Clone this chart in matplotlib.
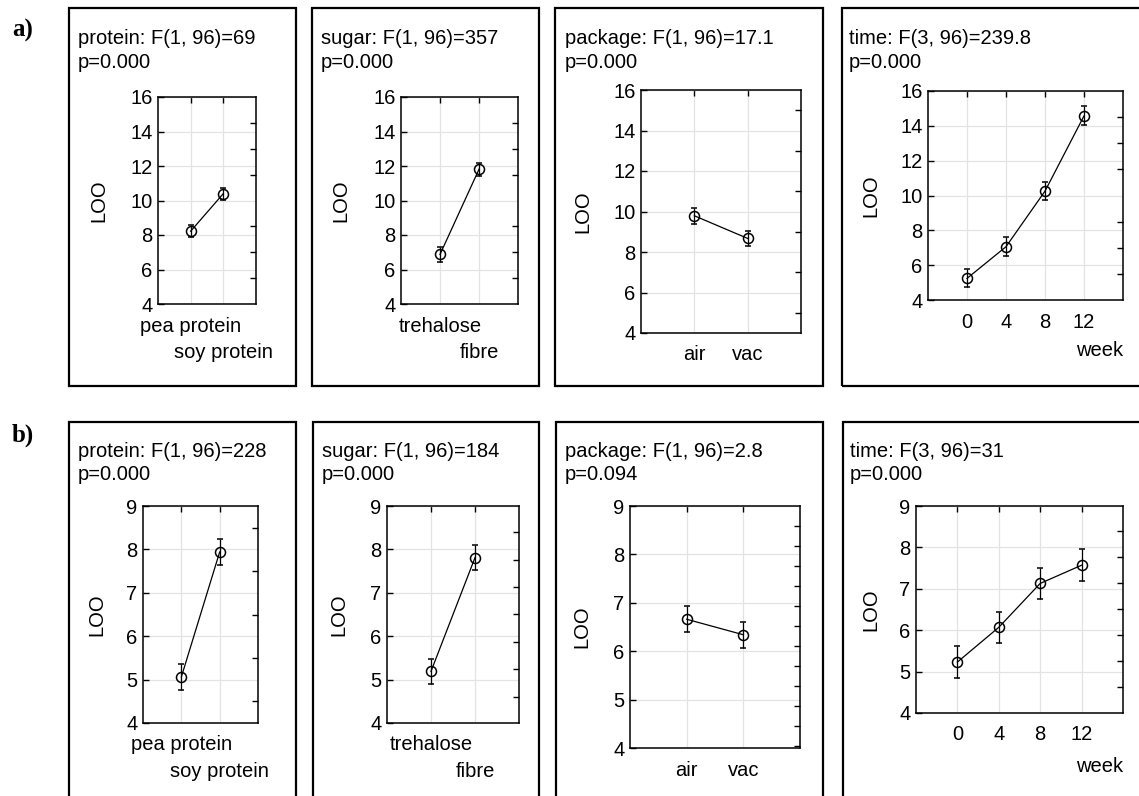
import numpy as np
import matplotlib
matplotlib.use("Agg")
import matplotlib.pyplot as plt
from matplotlib.patches import Rectangle
from matplotlib.ticker import FixedLocator

plt.rcParams['font.family'] = ['Liberation Sans', 'DejaVu Sans']

# ---------------- data ----------------
protein_labels = ["pea protein", "soy protein"]
sugar_labels = ["trehalose", "fibre"]
package_labels = ["air", "vac"]
weeks = [0, 4, 8, 12]

a_protein_mean = [8.22, 10.40]
a_protein_err = [0.35, 0.35]
a_sugar_mean = [6.87, 11.81]
a_sugar_err = [0.44, 0.39]
a_package_mean = [9.79, 8.67]
a_package_err = [0.39, 0.38]
a_time_mean = [5.24, 7.06, 10.25, 14.57]
a_time_err = [0.52, 0.55, 0.53, 0.55]

b_protein_mean = [5.06, 7.94]
b_protein_err = [0.29, 0.29]
b_sugar_mean = [5.19, 7.81]
b_sugar_err = [0.28, 0.28]
b_package_mean = [6.66, 6.34]
b_package_err = [0.27, 0.27]
b_time_mean = [5.23, 6.07, 7.13, 7.57]
b_time_err = [0.38, 0.38, 0.38, 0.39]

a_titles = ["protein: F(1, 96)=69", "sugar: F(1, 96)=357",
            "package: F(1, 96)=17.1", "time: F(3, 96)=239.8"]
a_pvals = ["p=0.000", "p=0.000", "p=0.000", "p=0.000"]
b_titles = ["protein: F(1, 96)=228", "sugar: F(1, 96)=184",
            "package: F(1, 96)=2.8", "time: F(3, 96)=31"]
b_pvals = ["p=0.000", "p=0.000", "p=0.094", "p=0.000"]

a_yticks = [4, 6, 8, 10, 12, 14, 16]
b_yticks = [4, 5, 6, 7, 8, 9]
y_label = "LOO"
week_label = "week"

# ---------------- layout (pixels) ----------------
W, H = 1139, 796
fig = plt.figure(figsize=(W / 100, H / 100), dpi=100)
FS = 14.5


def frac(l, t, r, b):
    return [l / W, 1 - b / H, (r - l) / W, (b - t) / H]


a_boxes = [(69, 8, 296, 386), (312, 8, 539, 386), (555, 8, 823, 386), (842, 8, 1150, 386)]
b_boxes = [(69, 422, 296, 810), (313, 422, 539, 810), (556, 422, 823, 810), (843, 422, 1150, 810)]
a_axes = [(158, 97, 256, 304), (401, 97, 518, 304), (641, 90, 801, 333), (928, 91, 1123, 300)]
b_axes = [(143, 506, 258, 723), (387, 506, 519, 723), (630, 506, 800, 748), (916, 506, 1123, 713)]
a_title_xy = [(78, 38, 62), (321, 38, 62), (565, 38, 62), (849, 38, 62)]
b_title_xy = [(78, 451, 474), (322, 451, 474), (565, 451, 474), (850, 451, 474)]
a_ylab_x = [99, 341, 583, 871]
b_ylab_x = [97, 339, 582, 871]
a_right = [(14.5, 1.5), (14.5, 1.5), (15, 1.0), (14.5, 1.5)]
b_right = [(8.5, 1.0), (8.39, 0.63), (8.586, 0.413), (8.405, 0.63)]

XPAD = 9.0          # points
STAGGER = 19.0      # points, extra pad for second staggered label


def draw_panel(box, axpos, title, pval, txy, ylx, xvals, xlabels, means, errs,
               yticks, right, staggered, is_time, week_off):
    l, t, r, b = box
    fig.patches.append(Rectangle((l / W, 1 - b / H), (r - l) / W, (b - t) / H,
                                 transform=fig.transFigure, fill=False,
                                 lw=1.6, ec='black'))
    fig.text(txy[0] / W, 1 - txy[1] / H, title, fontsize=FS, ha='left', va='center')
    fig.text(txy[0] / W, 1 - txy[2] / H, pval, fontsize=FS, ha='left', va='center')

    ax = fig.add_axes(frac(*axpos))
    ax.errorbar(xvals, means, yerr=errs, color='black', lw=0.9, marker='o',
                markersize=7.2, markerfacecolor='none', markeredgecolor='black',
                markeredgewidth=1.1, capsize=2.2, elinewidth=0.9, capthick=0.9)
    ax.set_ylim(yticks[0], yticks[-1])
    ax.set_yticks(yticks)
    ax.set_yticklabels([str(v) for v in yticks])
    if is_time:
        ax.set_xlim(-4, 16)
        ax.set_xticks(xvals)
        ax.set_xticklabels([str(v) for v in xvals])
    else:
        ax.set_xlim(-1, 2)
        ax.set_xticks(xvals)
        ax.set_xticklabels(xlabels)
    ax.grid(True, color='#e3e3e3', lw=0.9)
    ax.set_axisbelow(True)
    for s in ax.spines.values():
        s.set_linewidth(1.1)
    ax.tick_params(axis='both', which='major', direction='in', length=4,
                   width=1.0, labelsize=FS, top=True, bottom=False, right=False)
    ax.tick_params(axis='y', pad=4)
    ax.tick_params(axis='x', pad=XPAD)
    start, step = right
    rt = np.arange(start, yticks[0] + 1e-6, -step)
    ax.yaxis.set_minor_locator(FixedLocator(rt))
    ax.tick_params(axis='y', which='minor', direction='in', length=4, width=1.0,
                   left=False, right=True)
    if staggered:
        ticks = ax.xaxis.get_major_ticks()
        ticks[1].set_pad(XPAD + STAGGER)
    ax.set_ylabel(y_label, fontsize=FS, va='center')
    al, at, ar, ab = axpos
    ax.yaxis.set_label_coords((ylx - al) / (ar - al), 0.5)
    if is_time:
        ax.set_xlabel(week_label, fontsize=FS, ha='right', va='center')
        ax.xaxis.set_label_coords(1.0, -week_off / (ab - at))
    return ax


a_sets = [
    (np.arange(len(protein_labels)), protein_labels, a_protein_mean, a_protein_err, True, False),
    (np.arange(len(sugar_labels)), sugar_labels, a_sugar_mean, a_sugar_err, True, False),
    (np.arange(len(package_labels)), package_labels, a_package_mean, a_package_err, False, False),
    (weeks, None, a_time_mean, a_time_err, False, True),
]
b_sets = [
    (np.arange(len(protein_labels)), protein_labels, b_protein_mean, b_protein_err, True, False),
    (np.arange(len(sugar_labels)), sugar_labels, b_sugar_mean, b_sugar_err, True, False),
    (np.arange(len(package_labels)), package_labels, b_package_mean, b_package_err, False, False),
    (weeks, None, b_time_mean, b_time_err, False, True),
]

for i in range(4):
    xv, xl, m, e, stg, tm = a_sets[i]
    draw_panel(a_boxes[i], a_axes[i], a_titles[i], a_pvals[i], a_title_xy[i],
               a_ylab_x[i], xv, xl, m, e, a_yticks, a_right[i], stg, tm, 50)
for i in range(4):
    xv, xl, m, e, stg, tm = b_sets[i]
    draw_panel(b_boxes[i], b_axes[i], b_titles[i], b_pvals[i], b_title_xy[i],
               b_ylab_x[i], xv, xl, m, e, b_yticks, b_right[i], stg, tm, 54)

fig.text(12 / W, 1 - 30 / H, "a)", fontsize=18, fontweight='bold',
         family=['Liberation Serif', 'DejaVu Serif'], ha='left', va='center')
fig.text(12 / W, 1 - 435 / H, "b)", fontsize=18, fontweight='bold',
         family=['Liberation Serif', 'DejaVu Serif'], ha='left', va='center')

fig.savefig("out.png", dpi=100)
